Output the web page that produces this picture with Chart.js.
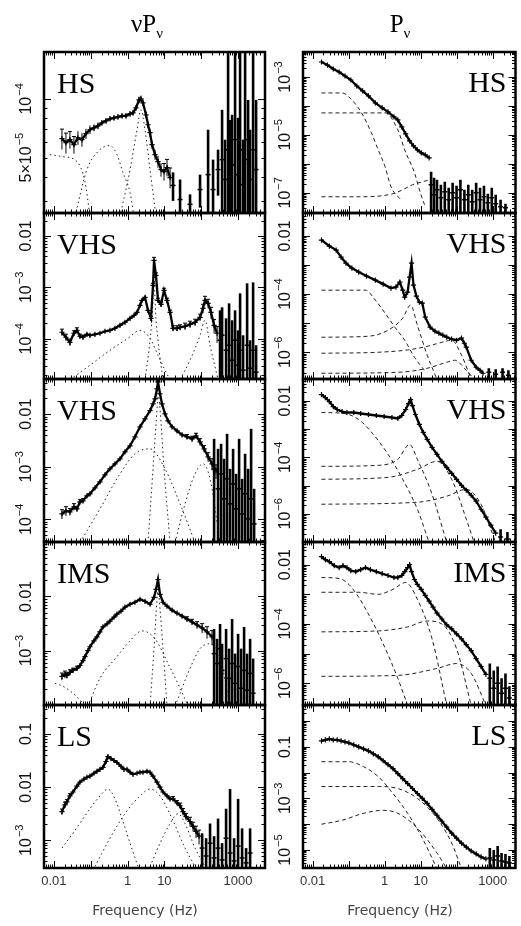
<!DOCTYPE html>
<html><head><meta charset="utf-8">
<script src="https://cdn.jsdelivr.net/npm/chart.js@4.4.1/dist/chart.umd.min.js"></script>
<style>
html,body{margin:0;padding:0;background:#fff;width:521px;height:926px;overflow:hidden}
#wrap{position:relative;width:521px;height:926px}
canvas{position:absolute;left:0;top:0}
</style></head><body><div id="wrap"></div>
<script>
// ---------------- DATA (frequency Hz, power) ----------------
const X_TICKS = [0.01, 1, 10, 1000];
const X_TICK_LABELS = ['0.01', '1', '10', '1000'];
const X_TITLE = 'Frequency (Hz)';
const STATES = ['HS', 'VHS', 'VHS', 'IMS', 'LS'];

// Row 1 : HS
const hsL_main = [[0.0166,6.25e-5,0.12],[0.0213,5.96e-5,0.12],[0.0273,6.18e-5,0.1],[0.0351,5.83e-5,0.1],[0.0451,6.32e-5,0.08],[0.0579,6.18e-5,0.08],[0.0743,6.63e-5,0.06],[0.0955,6.95e-5,0.05],[0.123,7.11e-5,0.04],[0.158,7.28e-5,0.04],[0.202,7.54e-5,0.03],[0.26,7.72e-5,0.03],[0.334,7.91e-5,0.03],[0.429,8.0e-5,0.03],[0.55,8.09e-5,0.03],[0.707,8.19e-5,0.03],[0.908,8.19e-5,0.03],[1.17,8.39e-5,0.03],[1.41,8.48e-5,0.03],[1.70,8.99e-5,0.03],[2.05,9.88e-5,0.04],[2.32,1.0e-4,0.04],[2.63,9.54e-5,0.04],[3.18,8.29e-5,0.04],[3.60,7.37e-5,0.04],[4.08,6.71e-5,0.05],[4.62,5.83e-5,0.05],[5.58,5.18e-5,0.06],[6.73,4.77e-5,0.07],[8.12,4.34e-5,0.08],[9.79,4.24e-5,0.1],[11.8,4.45e-5,0.1],[14.3,3.95e-5,0.12]];
const hsL_noise = [[17.2,3.6e-5,4.2e-5],[26.7,3.05e-5,3.86e-5],[49.8,2.88e-5,3.24e-5],[93.1,3.43e-5,4.09e-5],[154,4.09e-5,6.95e-5],[210,3.43e-5,4.88e-5],[287,4.34e-5,5.49e-5],[369,4.88e-5,8.79e-5],[445,3.86e-5,6.18e-5],[537,5.49e-5,2.5e-4],[608,3.43e-5,7.8e-5],[690,4.6e-5,8.29e-5],[832,6.18e-5,2.5e-4],[1004,4.09e-5,8.0e-5],[1138,5.49e-5,2.5e-4],[1373,3.64e-5,6.18e-5],[1556,4.88e-5,2.5e-4],[1877,6.18e-5,9.88e-5],[2127,3.86e-5,6.95e-5],[2567,5.49e-5,2.5e-4],[3096,4.34e-5,9.88e-5]];
const hsL_c1 = [[0.0078,5.18e-5],[0.0176,5.06e-5],[0.0423,4.77e-5],[0.0698,3.77e-5],[0.0955,2.5e-5]];
const hsL_c2 = [[0.0374,2.5e-5],[0.0791,4.34e-5],[0.1785,5.49e-5],[0.334,5.76e-5],[0.517,5.18e-5],[0.753,4.19e-5],[1.17,3.31e-5],[1.50,2.5e-5]];
const hsL_c3 = [[0.624,2.5e-5],[1.17,4.34e-5],[1.81,6.95e-5],[2.32,8.79e-5],[2.98,6.95e-5],[4.08,4.34e-5],[5.93,2.5e-5]];

const hsR_main = [[0.0176,3.29e-3],[0.0257,2.59e-3],[0.0374,1.89e-3],[0.0544,1.49e-3],[0.0791,1.08e-3],[0.115,7.88e-4],[0.168,4.89e-4],[0.244,3.29e-4],[0.355,2.21e-4],[0.55,1.27e-4],[0.853,8.53e-5],[1.24,6.21e-5],[1.81,4.18e-5],[2.32,3.29e-5],[2.98,1.89e-5],[3.83,1.08e-5],[4.92,6.21e-6],[6.32,4.18e-6],[8.11,3.04e-6],[10.4,2.39e-6],[13.4,2.04e-6],[17.2,1.61e-6]];
const hsR_noise = [[19.5,1.89e-7,5.3e-7],[23.5,8.53e-8,3.29e-7],[28.4,1.27e-7,2.81e-7],[36.4,6.72e-8,1.89e-7],[46.8,1.08e-7,2.39e-7],[60.1,5.73e-8,1.49e-7],[77.2,1.0e-7,2.21e-7],[99.1,6.72e-8,1.74e-7],[127,1.27e-7,2.81e-7],[164,5.73e-8,1.27e-7],[210,8.53e-8,1.89e-7],[270,4.89e-8,1.27e-7],[347,1.0e-7,2.21e-7],[445,5.73e-8,1.49e-7],[572,7.28e-8,1.74e-7],[734,4.52e-8,9.24e-8],[943,6.72e-8,1.49e-7],[1211,4.18e-8,8.53e-8],[1656,3.29e-8,5.73e-8],[2264,3.04e-8,4.18e-8]];
const hsR_c1 = [[0.0176,2.81e-4],[0.0656,2.81e-4],[0.1226,1.61e-4],[0.229,5.74e-5],[0.429,1.17e-5],[0.664,3.04e-6],[1.03,7.88e-7],[1.50,1.61e-7],[2.80,5.73e-8]];
const hsR_c2 = [[0.0176,5.74e-5],[1.03,5.74e-5],[2.32,1.49e-5],[3.60,3.04e-6],[6.73,4.89e-7],[9.79,1.0e-7],[13.4,3.29e-8]];
const hsR_c3 = [[0.0176,7.28e-8],[0.19,7.28e-8],[1.70,9.24e-8],[3.17,1.27e-7],[5.93,1.89e-7],[11.1,2.39e-7],[18,2.81e-7]];

// Row 2 : VHS
const vhs1L_main = [[0.0166,1.34e-4,0.15],[0.0213,1.07e-4,0.15],[0.0273,8.55e-5,0.15],[0.0351,1.28e-4,0.12],[0.0423,1.46e-4,0.12],[0.0511,1.12e-4,0.1],[0.0616,1.07e-4,0.1],[0.0791,1.22e-4,0.08],[0.0955,1.17e-4,0.08],[0.1305,1.22e-4,0.06],[0.1785,1.28e-4,0.06],[0.244,1.40e-4,0.05],[0.334,1.46e-4,0.05],[0.456,1.60e-4,0.05],[0.624,1.83e-4,0.05],[0.853,2.09e-4,0.05],[1.17,2.50e-4,0.05],[1.50,2.86e-4,0.05],[1.81,3.27e-4,0.05],[2.18,4.47e-4,0.06],[2.47,5.59e-4,0.06],[2.98,6.40e-4,0.06],[3.60,3.58e-4,0.08],[4.34,2.50e-4,0.1],[4.92,1.09e-3,0.1],[5.24,3.34e-3,0.15],[5.93,1.71e-3,0.12],[6.73,5.59e-4,0.1],[8.12,4.68e-4,0.1],[9.79,8.75e-4,0.1],[11.8,5.59e-4,0.1],[14.3,3.27e-4,0.1],[17.2,1.60e-4,0.12],[22.1,1.60e-4,0.12],[26.7,1.67e-4,0.12],[36.4,1.75e-4,0.15],[49.8,1.91e-4,0.15],[68.1,2.09e-4,0.15],[93.1,2.62e-4,0.15],[112,3.91e-4,0.2],[127,5.59e-4,0.2],[154,4.89e-4,0.2],[185,3.27e-4,0.25],[224,1.83e-4,0.3],[270,1.28e-4,0.35]];
const vhs1L_noise = [[325,9.35e-5,3.58e-4],[369,1.17e-4,4.09e-4],[474,5.98e-5,2.50e-4],[572,7.48e-5,4.89e-4],[690,3.83e-5,2.29e-4],[832,9.35e-5,3.58e-4],[1004,3.06e-5,1.46e-4],[1138,5.98e-5,7.65e-4],[1373,2.45e-5,1.17e-4],[1764,7.48e-5,1.20e-3],[2127,2.68e-5,9.35e-5],[2567,5.98e-5,1.25e-3],[3096,2.24e-5,7.48e-5]];
const vhs1L_c1 = [[0.0273,1.6e-5],[0.0955,3.06e-5],[0.334,5.98e-5],[1.03,1.02e-4],[2.18,1.46e-4],[4.08,1.02e-4],[6.73,4.78e-5],[10.4,2.45e-5],[14.3,1.6e-5]];
const vhs1L_c2 = [[2.98,1.6e-5],[4.08,9.35e-5],[4.92,5.59e-4],[5.24,2.68e-3],[5.58,5.59e-4],[6.73,9.35e-5],[9.20,1.6e-5]];
const vhs1L_c3 = [[26.7,1.6e-5],[49.8,3.83e-5],[93.1,1.17e-4],[127,2.29e-4],[174,7.48e-5],[287,1.6e-5]];

const vhs1R_main = [[0.0176,7.28e-3],[0.0291,4.52e-3],[0.0451,3.29e-3],[0.0616,1.89e-3],[0.0842,1.17e-3],[0.123,7.88e-4],[0.19,5.73e-4],[0.313,4.18e-4],[0.55,3.04e-4],[0.908,2.21e-4],[1.50,1.61e-4],[2.05,1.74e-4],[2.63,2.59e-4],[3.17,1.37e-4],[3.60,7.88e-5],[4.34,1.17e-4],[4.92,3.86e-4],[5.58,1.17e-3],[6.32,2.04e-4],[7.62,8.53e-5],[9.20,5.30e-5],[11.1,4.89e-5],[13.4,1.61e-5],[18.3,7.28e-6],[25.0,5.30e-6],[32.1,4.52e-6],[41.3,3.86e-6],[53.0,3.29e-6],[72.5,2.81e-6],[99.1,2.59e-6],[136,3.04e-6],[164,2.04e-6],[185,1.49e-6],[253,5.30e-7],[347,3.04e-7],[445,2.39e-7],[537,1.89e-7]];
const vhs1R_noise = [[781,2.04e-7,2.81e-7],[1211,1.74e-7,2.59e-7],[1877,2.04e-7,2.81e-7],[2732,1.61e-7,2.39e-7]];
const vhs1R_c1 = [[0.0176,1.37e-4],[0.294,1.37e-4],[0.5505,6.21e-5],[1.03,2.21e-5],[1.92,7.28e-6],[3.60,2.59e-6],[6.73,6.72e-7],[12.6,2.39e-7]];
const vhs1R_c2 = [[0.0176,3.29e-6],[0.355,3.56e-6],[1.242,5.74e-6],[3.17,1.49e-5],[5.24,4.18e-5],[8.11,8.53e-6],[15.2,7.88e-7],[28.4,1.17e-7]];
const vhs1R_c3 = [[0.0176,9.24e-7],[0.664,1.0e-6],[4.34,1.2e-6],[15.2,1.6e-6],[38.8,2.2e-6],[72.5,2.59e-6],[136,8e-7],[253,1.17e-7]];
const vhs1R_c4 = [[0.0176,1.89e-7],[2.32,2.04e-7],[15.2,2.81e-7],[53.0,4.52e-7],[87.5,5.30e-7],[185,2.39e-7],[306,1.17e-7]];

// Row 3 : VHS
const vhs2L_main = [[0.0166,1.27e-4,0.2],[0.0213,1.45e-4,0.2],[0.0273,1.39e-4,0.15],[0.0351,1.73e-4,0.15],[0.0423,1.58e-4,0.12],[0.0511,2.15e-4,0.1],[0.0616,2.25e-4,0.1],[0.0791,2.80e-4,0.08],[0.0955,3.06e-4,0.08],[0.1305,3.98e-4,0.06],[0.1785,5.18e-4,0.05],[0.244,7.04e-4,0.05],[0.334,9.15e-4,0.04],[0.456,1.14e-3,0.04],[0.624,1.42e-3,0.04],[0.853,1.93e-3,0.04],[1.17,2.51e-3,0.04],[1.595,3.73e-3,0.04],[2.18,5.78e-3,0.04],[2.98,8.2e-3,0.04],[4.08,1.17e-2,0.04],[4.92,1.58e-2,0.05],[5.58,1.97e-2,0.05],[6.32,3.06e-2,0.06],[6.73,4.16e-2,0.08],[7.62,2.46e-2,0.06],[8.64,1.58e-2,0.05],[10.4,1.02e-2,0.05],[12.6,7.52e-3,0.06],[16.2,5.78e-3,0.06],[22.1,4.85e-3,0.08],[30.2,4.07e-3,0.08],[41.3,3.73e-3,0.1],[56.5,3.41e-3,0.12],[72.5,3.89e-3,0.12],[93.1,2.99e-3,0.15],[120,2.20e-3,0.15],[154,1.55e-3,0.2],[197,1.14e-3,0.25],[253,8.39e-4,0.3]];
const vhs2L_noise = [[224,9.15e-4,3.41e-3],[287,3.81e-4,2.20e-3],[347,7.35e-4,2.74e-3],[418,2.46e-4,1.42e-3],[504,5.90e-4,4.25e-3],[608,1.97e-4,9.15e-4],[734,4.74e-4,2.20e-3],[886,1.58e-4,7.35e-4],[1069,3.81e-4,3.41e-3],[1289,1.27e-4,5.90e-4],[1556,3.06e-4,1.77e-3],[1877,1.02e-4,9.15e-4],[2265,2.46e-4,5.29e-3],[2733,8.2e-5,3.81e-4]];
const vhs2L_c1 = [[0.0511,3.6e-5],[0.1785,1.58e-4],[0.624,7.35e-4],[1.595,1.77e-3],[4.08,2.20e-3],[10.4,9.15e-4],[26.7,1.97e-4],[68.1,3.6e-5]];
const vhs2L_c2 = [[3.60,3.6e-5],[4.92,9.15e-4],[6.32,1.27e-2],[6.73,2.46e-2],[7.62,1.27e-2],[9.79,9.15e-4],[14.3,3.6e-5]];
const vhs2L_c3 = [[19.5,3.6e-5],[36.4,1.97e-4],[68.1,7.35e-4],[112,1.14e-3],[174,5.90e-4],[325,3.6e-5]];

const vhs2R_main = [[0.0176,1.68e-2],[0.0226,1.32e-2],[0.0291,9.53e-3],[0.0374,6.34e-3],[0.048,4.97e-3],[0.0656,4.22e-3],[0.0897,3.89e-3],[0.139,3.89e-3],[0.2155,3.59e-3],[0.355,3.31e-3],[0.586,3.05e-3],[0.967,2.81e-3],[1.595,2.59e-3],[2.32,2.39e-3],[2.98,3.05e-3],[3.83,4.97e-3],[4.62,8.1e-3],[5.24,1.12e-2],[5.93,6.88e-3],[7.16,3.31e-3],[9.20,1.47e-3],[11.8,7.65e-4],[15.2,4.33e-4],[20.7,2.26e-4],[28.4,1.28e-4],[38.8,7.23e-5],[53.0,4.43e-5],[72.5,2.72e-5],[99.1,1.67e-5],[136,1.02e-5],[185,6.82e-6],[253,4.54e-6],[347,2.79e-6],[474,1.45e-6],[648,7.58e-7],[886,3.96e-7],[1211,2.06e-7]];
const vhs2R_noise = [[1656,1.49e-7,2.86e-7],[2566,1.27e-7,2.24e-7]];
const vhs2R_c0 = [[0.0176,3.89e-3],[0.0743,3.59e-3],[0.19,2.20e-3],[0.486,6.5e-4],[1.242,1.28e-4],[3.17,1.67e-5],[8.11,1.45e-6],[17.2,9.5e-8]];
const vhs2R_c1 = [[0.0176,4.81e-5],[0.664,5.22e-5],[2.32,8.5e-5],[4.92,2.88e-4],[8.11,8.5e-5],[20.7,4.93e-6],[53.0,9.5e-8]];
const vhs2R_c2 = [[0.0176,1.67e-5],[1.242,1.96e-5],[8.11,3.77e-5],[28.4,7.23e-5],[72.5,1.67e-5],[185,6.45e-7],[306,9.5e-8]];
const vhs2R_c3 = [[0.0176,2.18e-6],[8.11,2.57e-6],[53.0,4.19e-6],[185,7.4e-6],[474,2.18e-6],[886,2.86e-7],[1211,9.5e-8]];

// Row 4 : IMS
const imsL_main = [[0.0166,3.37e-4,0.15],[0.02,3.66e-4,0.15],[0.0226,3.51e-4,0.12],[0.0273,3.98e-4,0.12],[0.033,4.33e-4,0.1],[0.0423,4.71e-4,0.1],[0.0511,5.33e-4,0.08],[0.0616,6.57e-4,0.08],[0.0698,7.77e-4,0.06],[0.0842,1.0e-3,0.06],[0.0955,1.18e-3,0.05],[0.1227,1.52e-3,0.05],[0.148,1.80e-3,0.05],[0.1785,2.21e-3,0.04],[0.2155,2.73e-3,0.04],[0.2766,3.10e-3,0.04],[0.334,3.51e-3,0.04],[0.429,4.15e-3,0.04],[0.517,4.70e-3,0.04],[0.664,5.33e-3,0.04],[0.853,6.31e-3,0.04],[1.17,7.15e-3,0.04],[1.595,7.78e-3,0.04],[2.18,8.82e-3,0.04],[2.98,8.11e-3,0.04],[4.08,7.15e-3,0.05],[5.24,9.59e-3,0.05],[5.93,1.34e-2,0.06],[6.73,2.04e-2,0.08],[7.62,1.09e-2,0.06],[9.20,7.78e-3,0.05],[11.8,6.58e-3,0.05],[16.2,5.56e-3,0.06],[22.1,4.91e-3,0.06],[30.2,4.33e-3,0.08],[41.3,3.82e-3,0.1],[56.5,3.37e-3,0.12],[77.2,2.97e-3,0.15],[106,2.62e-3,0.2],[144,2.21e-3,0.25],[197,1.80e-3,0.3]];
const imsL_noise = [[224,8.82e-4,2.51e-3],[270,5.80e-4,1.65e-3],[325,1.09e-3,3.10e-3],[369,4.33e-4,1.34e-3],[474,7.15e-4,2.51e-3],[572,3.10e-4,1.09e-3],[690,5.80e-4,3.82e-3],[832,2.51e-4,8.82e-4],[1004,5.12e-4,2.04e-3],[1211,2.04e-4,1.09e-3],[1461,4.33e-4,2.73e-3],[1764,1.87e-4,8.82e-4],[2127,3.82e-4,1.65e-3],[2567,1.65e-4,7.15e-4]];
const imsL_c1 = [[0.0107,2.51e-4],[0.0176,2.21e-4],[0.033,1.65e-4],[0.0616,1.09e-4],[0.0842,8.8e-5]];
const imsL_c2 = [[0.0842,9.5e-5],[0.1785,3.10e-4],[0.517,7.77e-4],[1.17,1.52e-3],[2.47,2.31e-3],[5.58,1.65e-3],[12.6,5.80e-4],[26.7,2.04e-4],[44.0,9.5e-5]];
const imsL_c3 = [[4.08,9.5e-5],[5.24,1.09e-3],[6.32,8.82e-3],[6.73,1.34e-2],[7.62,5.8e-3],[9.20,1.09e-3],[11.8,9.5e-5]];
const imsL_c4 = [[19.5,9.5e-5],[49.8,4.71e-4],[93.1,1.09e-3],[174,1.34e-3],[325,7.15e-4],[608,9.5e-5]];

const imsR_main = [[0.0176,1.85e-2],[0.0226,1.47e-2],[0.0291,1.26e-2],[0.0398,9.26e-3],[0.0544,7.94e-3],[0.0698,9.26e-3],[0.0897,7.94e-3],[0.115,6.31e-3],[0.158,5.84e-3],[0.2155,6.81e-3],[0.294,7.94e-3],[0.4025,6.81e-3],[0.586,5.84e-3],[0.853,5.01e-3],[1.24,4.30e-3],[1.81,3.68e-3],[2.32,3.68e-3],[2.98,4.30e-3],[3.60,5.84e-3],[4.34,7.94e-3],[4.92,1.0e-2],[5.58,5.84e-3],[6.73,3.16e-3],[8.11,2.15e-3],[10.4,1.47e-3],[13.4,9.26e-4],[17.2,5.84e-4],[22.1,3.68e-4],[28.4,2.33e-4],[38.8,1.47e-4],[53.0,9.26e-5],[72.5,6.82e-5],[99.1,4.64e-5],[136,3.16e-5],[185,2.0e-5],[253,1.26e-5],[347,6.81e-6],[474,3.69e-6],[648,2.0e-6]];
const imsR_noise = [[832,1.47e-6,4.64e-6],[1069,6.81e-7,2.71e-6],[1373,1.0e-6,3.69e-6],[1763,4.64e-7,1.47e-6],[2264,6.81e-7,2.15e-6],[2908,3.16e-7,7.94e-7]];
const imsR_c0 = [[0.0176,3.68e-3],[0.0544,3.41e-3],[0.1017,2.15e-3],[0.19,7.94e-4],[0.355,2.15e-4],[0.908,2.15e-5],[2.32,1.47e-6],[4.34,1.8e-7]];
const imsR_c1 = [[0.0176,1.17e-3],[0.19,1.17e-3],[0.664,1.0e-3],[1.70,1.47e-3],[3.83,2.51e-3],[8.11,6.81e-4],[20.7,3.16e-5],[53.0,1.8e-7]];
const imsR_c2 = [[0.0176,5.41e-5],[0.664,5.84e-5],[4.34,7.94e-5],[15.2,1.26e-4],[38.8,1.0e-4],[99.1,1.47e-5],[253,1.8e-7]];
const imsR_c3 = [[0.0176,1.71e-6],[2.32,1.85e-6],[28.4,3.16e-6],[99.1,4.64e-6],[253,2.15e-6],[648,1.8e-7]];

// Row 5 : LS
const lsL_main = [[0.0166,3.44e-3,0.12],[0.02,4.64e-3,0.12],[0.0226,5.28e-3,0.1],[0.0273,6.81e-3,0.1],[0.033,8.08e-3,0.08],[0.0423,1.04e-2,0.08],[0.0511,1.24e-2,0.06],[0.0656,1.41e-2,0.06],[0.0791,1.53e-2,0.05],[0.0955,1.60e-2,0.05],[0.1227,1.82e-2,0.05],[0.148,1.98e-2,0.04],[0.1785,2.15e-2,0.04],[0.2155,2.35e-2,0.04],[0.26,3.03e-2,0.04],[0.294,3.75e-2,0.04],[0.355,3.44e-2,0.04],[0.429,3.16e-2,0.03],[0.517,2.90e-2,0.03],[0.664,2.45e-2,0.03],[0.80,2.15e-2,0.03],[0.967,2.15e-2,0.03],[1.17,1.90e-2,0.03],[1.407,1.74e-2,0.03],[1.81,1.82e-2,0.03],[2.18,1.90e-2,0.03],[2.63,1.90e-2,0.03],[3.38,1.98e-2,0.03],[4.08,1.90e-2,0.03],[4.92,1.60e-2,0.03],[6.32,1.24e-2,0.04],[7.62,1.0e-2,0.04],[9.20,8.08e-3,0.05],[11.8,6.81e-3,0.06],[14.3,6.0e-3,0.08],[17.2,6.0e-3,0.1],[22.1,5.06e-3,0.1],[26.7,4.45e-3,0.12],[32.1,3.44e-3,0.15],[38.8,2.78e-3,0.15],[49.8,2.25e-3,0.2],[60.1,1.82e-3,0.2],[72.5,1.47e-3,0.25],[87.5,1.19e-3,0.3]];
const lsL_noise = [[106,7.11e-4,1.35e-3],[136,5.05e-4,1.09e-3],[174,8.8e-4,2.06e-3],[224,4.64e-4,1.19e-3],[287,7.11e-4,2.55e-3],[369,4.26e-4,8.8e-4],[474,1.09e-3,3.91e-3],[608,5.74e-4,9.18e-3],[782,4.08e-4,1.09e-3],[1004,7.74e-4,6.0e-3],[1289,4.64e-4,1.67e-3],[1656,3.75e-4,7.11e-4],[2127,5.74e-4,1.67e-3]];
const lsL_c1 = [[0.0166,7.11e-4],[0.0374,1.53e-3],[0.0955,3.91e-3],[0.1785,6.81e-3],[0.2944,9.18e-3],[0.456,6.0e-3],[0.707,2.55e-3],[1.17,8.8e-4],[1.924,3.2e-4]];
const lsL_c2 = [[0.1305,3.2e-4],[0.334,1.09e-3],[0.853,3.16e-3],[2.18,6.81e-3],[4.08,9.18e-3],[7.62,6.81e-3],[16.2,2.55e-3],[36.4,7.11e-4],[68.1,3.2e-4]];
const lsL_c3 = [[4.08,3.2e-4],[7.62,8.8e-4],[14.3,2.06e-3],[23.5,3.16e-3],[36.4,2.06e-3],[68.1,7.11e-4],[127,3.2e-4]];

const lsR_main = [[0.0176,0.170],[0.0226,0.186],[0.0291,0.203],[0.0374,0.186],[0.048,0.186],[0.0616,0.170],[0.0791,0.155],[0.1017,0.142],[0.139,0.119],[0.19,0.0999],[0.26,0.0837],[0.355,0.0701],[0.486,0.0537],[0.664,0.0412],[0.908,0.0289],[1.24,0.0203],[1.70,0.0142],[2.32,9.14e-3],[3.17,5.87e-3],[4.34,3.77e-3],[5.93,2.42e-3],[8.11,1.55e-3],[11.1,9.99e-4],[15.2,6.41e-4],[20.7,3.77e-4],[28.4,2.22e-4],[38.8,1.30e-4],[53.0,7.66e-5],[72.5,4.50e-5],[99.1,2.89e-5],[136,1.86e-5],[185,1.30e-5],[253,9.14e-6],[347,7.01e-6],[474,5.37e-6],[648,4.50e-6]];
const lsR_noise = [[832,4.92e-6,1.19e-5],[1069,4.12e-6,9.99e-6],[1373,5.87e-6,1.42e-5],[1763,3.77e-6,7.66e-6],[2264,3.45e-6,7.01e-6],[2908,3.16e-6,5.87e-6]];
const lsR_c0 = [[0.0176,2.65e-2],[0.1017,2.65e-2],[0.26,1.70e-2],[0.664,7.01e-3],[1.70,1.55e-3],[4.34,2.65e-4],[11.1,2.89e-5],[28.4,1.9e-6]];
const lsR_c1 = [[0.0176,2.89e-3],[0.664,2.89e-3],[2.32,2.42e-3],[8.11,9.99e-4],[28.4,1.70e-4],[72.5,1.86e-5],[136,1.9e-6]];
const lsR_c2 = [[0.0176,9.99e-5],[0.0656,1.42e-4],[0.26,2.65e-4],[0.908,3.45e-4],[2.32,2.65e-4],[8.11,7.01e-5],[28.4,7.66e-6],[53.0,1.9e-6]];

// Axis limits and y tick labels
const X_MIN = 0.0054, X_MAX_L = 5400, X_MAX_R = 4300;
const Y_LIMITS = {
  hsL:[2.6e-5,1.74e-4], hsR:[2.0e-8,7.3e-3], vhs1L:[1.65e-5,0.028], vhs1R:[1.2e-7,0.062],
  vhs2L:[3.7e-5,0.047], vhs2R:[1.0e-7,0.060], imsL:[1e-4,0.1], imsR:[1.85e-7,0.058],
  lsL:[3.3e-4,0.35], lsR:[2e-6,4.2]
};
const hsL_ticks = [[1e-4,'10^-4'],[5e-5,'5x10^-5']];
const hsR_ticks = [[1e-3,'10^-3'],[1e-5,'10^-5'],[1e-7,'10^-7']];
const vhs1L_ticks = [[0.01,'0.01'],[1e-3,'10^-3'],[1e-4,'10^-4']];
const vhs1R_ticks = [[0.01,'0.01'],[1e-4,'10^-4'],[1e-6,'10^-6']];
const vhs2L_ticks = [[0.01,'0.01'],[1e-3,'10^-3'],[1e-4,'10^-4']];
const vhs2R_ticks = [[0.01,'0.01'],[1e-4,'10^-4'],[1e-6,'10^-6']];
const imsL_ticks = [[0.01,'0.01'],[1e-3,'10^-3']];
const imsR_ticks = [[0.01,'0.01'],[1e-4,'10^-4'],[1e-6,'10^-6']];
const lsL_ticks = [[0.1,'0.1'],[0.01,'0.01'],[1e-3,'10^-3']];
const lsR_ticks = [[0.1,'0.1'],[1e-3,'10^-3'],[1e-5,'10^-5']];

// ---------------- LAYOUT ----------------
const W = 521, H = 926;
const COL_X = [[44,265],[303,520]];
const ROW_Y = [52,213,379,542,705,868];
const COL_TITLES = [['ν','P','ν'],['','P','ν']];
const COL_TITLE_CX = [147, 400];
const XTITLE_CX = [145, 400];

const PANELS = [
  {key:'hsL',row:0,col:0,main:hsL_main,noise:hsL_noise,comps:[hsL_c1,hsL_c2,hsL_c3],ticks:hsL_ticks},
  {key:'hsR',row:0,col:1,main:hsR_main,noise:hsR_noise,comps:[hsR_c1,hsR_c2,hsR_c3],ticks:hsR_ticks},
  {key:'vhs1L',row:1,col:0,main:vhs1L_main,noise:vhs1L_noise,comps:[vhs1L_c1,vhs1L_c2,vhs1L_c3],ticks:vhs1L_ticks},
  {key:'vhs1R',row:1,col:1,main:vhs1R_main,noise:vhs1R_noise,comps:[vhs1R_c1,vhs1R_c2,vhs1R_c3,vhs1R_c4],ticks:vhs1R_ticks},
  {key:'vhs2L',row:2,col:0,main:vhs2L_main,noise:vhs2L_noise,comps:[vhs2L_c1,vhs2L_c2,vhs2L_c3],ticks:vhs2L_ticks},
  {key:'vhs2R',row:2,col:1,main:vhs2R_main,noise:vhs2R_noise,comps:[vhs2R_c0,vhs2R_c1,vhs2R_c2,vhs2R_c3],ticks:vhs2R_ticks},
  {key:'imsL',row:3,col:0,main:imsL_main,noise:imsL_noise,comps:[imsL_c1,imsL_c2,imsL_c3,imsL_c4],ticks:imsL_ticks},
  {key:'imsR',row:3,col:1,main:imsR_main,noise:imsR_noise,comps:[imsR_c0,imsR_c1,imsR_c2,imsR_c3],ticks:imsR_ticks},
  {key:'lsL',row:4,col:0,main:lsL_main,noise:lsL_noise,comps:[lsL_c1,lsL_c2,lsL_c3],ticks:lsL_ticks},
  {key:'lsR',row:4,col:1,main:lsR_main,noise:lsR_noise,comps:[lsR_c0,lsR_c1,lsR_c2],ticks:lsR_ticks}
];

const SANS = '"Liberation Sans", Arial, sans-serif';
const SERIF = '"Liberation Serif", "Times New Roman", serif';

function line(ctx,x1,y1,x2,y2){ctx.beginPath();ctx.moveTo(x1,y1);ctx.lineTo(x2,y2);ctx.stroke();}

function drawRotLabel(ctx, text, cx, cy){
  const parts = text.split('^');
  const base = parts[0].replace('x','×');
  const exp = parts[1] ? parts[1].replace('-','−') : null;
  ctx.save(); ctx.translate(cx, cy); ctx.rotate(-Math.PI/2);
  ctx.fillStyle = '#111'; ctx.textAlign = 'left'; ctx.textBaseline = 'alphabetic';
  ctx.font = '16px ' + SANS; const wb = ctx.measureText(base).width;
  let we = 0;
  if (exp){ ctx.font = '11px ' + SANS; we = ctx.measureText(exp).width + 1; }
  const start = -(wb + we)/2;
  ctx.font = '16px ' + SANS; ctx.fillText(base, start, 6);
  if (exp){ ctx.font = '11px ' + SANS; ctx.fillText(exp, start + wb + 1, -2); }
  ctx.restore();
}

function makePlugin(P){
  return {
    id:'panel_'+P.key,
    beforeDatasetsDraw(chart){
      const ctx = chart.ctx, xs = chart.scales.x, ys = chart.scales.y, a = chart.chartArea;
      ctx.save();
      ctx.beginPath(); ctx.rect(a.left, a.top, a.right-a.left, a.bottom-a.top); ctx.clip();
      ctx.strokeStyle = '#000';
      // error bars of noisy points
      ctx.lineWidth = 2.6;
      for (const d of P.noise){
        const px = xs.getPixelForValue(d[0]);
        const yt = ys.getPixelForValue(d[2]);
        const lo = 2*d[1]-d[2];
        const yb = lo > ys.min ? ys.getPixelForValue(lo) : a.bottom;
        line(ctx, px, yt, px, yb);
      }
      // error bars of main points
      ctx.lineWidth = 1;
      for (const d of P.main){
        if (!d[2]) continue;
        const px = xs.getPixelForValue(d[0]);
        const yt = ys.getPixelForValue(d[1]*(1+d[2]));
        const yb = ys.getPixelForValue(Math.max(d[1]*(1-d[2]), ys.min));
        line(ctx, px, yt, px, yb);
        if (d[2] >= 0.1){ line(ctx, px-2, yt, px+2, yt); }
      }
      ctx.restore();
    },
    afterDatasetsDraw(chart){
      const ctx = chart.ctx, xs = chart.scales.x, ys = chart.scales.y, a = chart.chartArea;
      ctx.save();
      ctx.strokeStyle = '#000'; ctx.lineWidth = 1;
      // inward tick marks on all four sides
      for (let d=-3; d<=4; d++) for (let m=1; m<=9; m++){
        const v = m*Math.pow(10,d);
        if (v <= xs.min || v >= xs.max) continue;
        const px = Math.round(xs.getPixelForValue(v))+0.5;
        const L = m===1 ? 7 : 3.5;
        line(ctx, px, a.bottom, px, a.bottom-L);
        line(ctx, px, a.top, px, a.top+L);
      }
      for (let d=-9; d<=1; d++) for (let m=1; m<=9; m++){
        const v = m*Math.pow(10,d);
        if (v <= ys.min || v >= ys.max) continue;
        const py = Math.round(ys.getPixelForValue(v))+0.5;
        const L = m===1 ? 7 : 3.5;
        line(ctx, a.left, py, a.left+L, py);
        line(ctx, a.right, py, a.right-L, py);
      }
      // frame
      ctx.lineWidth = 2.5;
      ctx.strokeRect(a.left, a.top, a.right-a.left, a.bottom-a.top);
      // y tick labels (rotated)
      const cx = a.left - 19;
      for (const t of P.ticks){ drawRotLabel(ctx, t[1], cx, ys.getPixelForValue(t[0])); }
      // state label
      ctx.fillStyle = '#000'; ctx.font = '30px ' + SERIF; ctx.textBaseline = 'alphabetic';
      if (P.col === 0){ ctx.textAlign = 'left'; ctx.fillText(STATES[P.row], a.left+13, a.top+41); }
      else { ctx.textAlign = 'right'; ctx.fillText(STATES[P.row], a.right-9, a.top+40); }
      // column title
      if (P.row === 0){
        const t = COL_TITLES[P.col];
        ctx.textAlign = 'left'; ctx.fillStyle = '#000';
        ctx.font = '25px ' + SERIF; const w0 = ctx.measureText(t[0]+t[1]).width;
        ctx.font = '15px ' + SERIF; const w1 = ctx.measureText(t[2]).width;
        const sx = COL_TITLE_CX[P.col] - (w0+w1)/2;
        ctx.font = '25px ' + SERIF; ctx.fillText(t[0]+t[1], sx, 32);
        ctx.font = '15px ' + SERIF; ctx.fillText(t[2], sx+w0, 38);
      }
      // x tick labels + title
      if (P.row === 4){
        ctx.fillStyle = '#333'; ctx.font = '13px ' + SANS; ctx.textAlign = 'center'; ctx.textBaseline = 'middle';
        X_TICKS.forEach((v,i)=>{ ctx.fillText(X_TICK_LABELS[i], xs.getPixelForValue(v), 881); });
        ctx.fillStyle = '#444'; ctx.font = '14px "DejaVu Sans", sans-serif';
        ctx.fillText(X_TITLE, XTITLE_CX[P.col], 911);
      }
      ctx.restore();
    }
  };
}

const wrap = document.getElementById('wrap');
for (const P of PANELS){
  const cv = document.createElement('canvas');
  cv.width = W; cv.height = H; cv.style.width = W+'px'; cv.style.height = H+'px';
  wrap.appendChild(cv);
  const [x0,x1] = COL_X[P.col];
  const y0 = ROW_Y[P.row], y1 = ROW_Y[P.row+1];
  const lim = Y_LIMITS[P.key];
  const dash = P.col === 0 ? [1.5,3] : [4,3];
  const datasets = [];
  P.comps.forEach(c => datasets.push({
    data: c.map(d=>({x:d[0],y:d[1]})), showLine:true, borderColor:'#222', borderWidth:1,
    borderDash:dash, pointRadius:0, tension:0.35, cubicInterpolationMode:'monotone', fill:false, order:3
  }));
  datasets.push({
    data: P.noise.map(d=>({x:d[0],y:d[1]})), showLine:false, pointStyle:'line', pointRadius:2.5,
    borderColor:'#000', pointBorderWidth:1.5, order:2
  });
  datasets.push({
    data: P.main.map(d=>({x:d[0],y:d[1]})), showLine:true, borderColor:'#000', borderWidth:2.3,
    pointStyle:'cross', pointRadius:2.6, pointBorderWidth:1.2, pointBorderColor:'#000', tension:0, fill:false, order:1
  });
  new Chart(cv, {
    type:'scatter',
    data:{datasets},
    options:{
      responsive:false, animation:false, devicePixelRatio:1, events:[],
      layout:{padding:{left:x0, right:W-x1, top:y0, bottom:H-y1}},
      plugins:{legend:{display:false}, tooltip:{enabled:false}},
      scales:{
        x:{type:'logarithmic', min:X_MIN, max:P.col===0?X_MAX_L:X_MAX_R, display:false},
        y:{type:'logarithmic', min:lim[0], max:lim[1], display:false}
      }
    },
    plugins:[makePlugin(P)]
  });
}
</script>
</body></html>
